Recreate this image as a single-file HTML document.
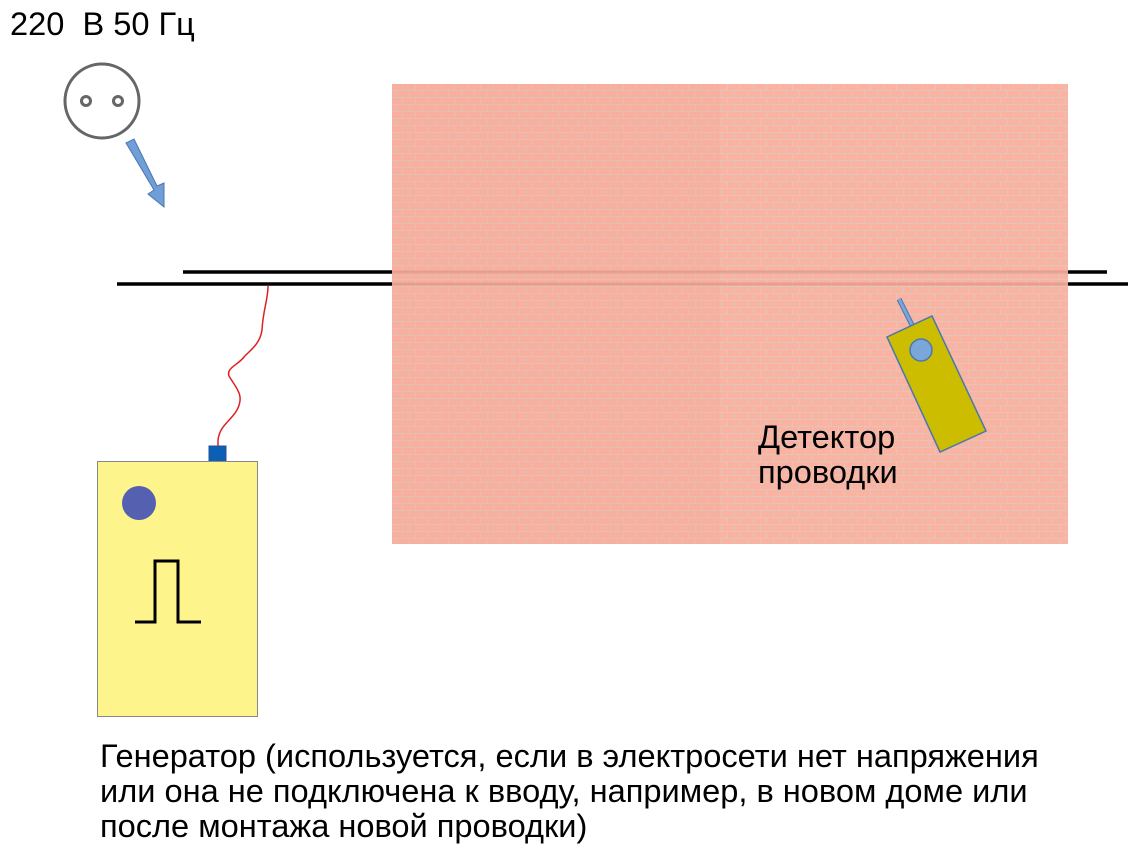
<!DOCTYPE html>
<html><head><meta charset="utf-8"><style>
body{margin:0;width:1135px;height:852px;background:#fff;overflow:hidden;position:relative;font-family:"Liberation Sans",sans-serif}
.t{position:absolute;color:#000;font-size:32.6px;line-height:35px}
</style></head><body>
<svg width="1135" height="852" style="position:absolute;left:0;top:0">
<defs>
<pattern id="b" width="26" height="14" patternUnits="userSpaceOnUse">
<rect width="26" height="14" fill="#d8c8c2"/>
<rect x="0" y="0" width="12" height="6" fill="#f9b09e"/>
<rect x="13" y="0" width="12" height="6" fill="#f9b09e"/>
<rect x="-6" y="7" width="12" height="6" fill="#f9b09e"/>
<rect x="7" y="7" width="12" height="6" fill="#f9b09e"/>
<rect x="20" y="7" width="12" height="6" fill="#f9b09e"/>
</pattern>
</defs>
<line x1="183" y1="272" x2="392" y2="272" stroke="#000" stroke-width="3.5"/>
<line x1="117" y1="284" x2="392" y2="284" stroke="#000" stroke-width="3.5"/>
<line x1="1068" y1="272" x2="1107" y2="272" stroke="#000" stroke-width="3.5"/>
<line x1="1068" y1="284" x2="1128" y2="284" stroke="#000" stroke-width="3.5"/>
<rect x="392" y="84" width="676" height="460" fill="url(#b)"/>
<rect x="392" y="84" width="328" height="460" fill="#f9b09e" opacity="0.4"/>
<rect x="720" y="84" width="348" height="460" fill="#fbb8a8" opacity="0.3"/>
<line x1="392" y1="272" x2="1068" y2="272" stroke="#d08878" stroke-width="3" opacity="0.45"/>
<line x1="392" y1="284" x2="1068" y2="284" stroke="#d08878" stroke-width="3" opacity="0.45"/>
<circle cx="102" cy="101" r="37" fill="none" stroke="#666" stroke-width="3"/>
<circle cx="86" cy="101" r="4.5" fill="none" stroke="#666" stroke-width="3"/>
<circle cx="118" cy="101" r="4.5" fill="none" stroke="#666" stroke-width="3"/>
<polygon points="126,143 134,139 157,186 164,183 164,207 148,194 154,190" fill="#6f9fd6" stroke="#4b76b0" stroke-width="1"/>
<path d="M268,286 C268,300 263,310 262,330 C260,345 248,352 244,357 C238,365 226,368 229,376 C236,388 245,395 237,410 C230,422 220,425 218,440 L218,447" fill="none" stroke="#e02020" stroke-width="1.5"/>
<rect x="209" y="446" width="17" height="16" fill="#0b5fb5" stroke="#2a4f8f"/>
<rect x="97.5" y="461.5" width="160" height="255" fill="#fef48c" stroke="#888"/>
<circle cx="139" cy="503" r="17" fill="#5560b0"/>
<polyline points="135,622 155,622 155,561 178,561 178,622 201,622" fill="none" stroke="#000" stroke-width="3"/>
<line x1="899" y1="299" x2="912" y2="325" stroke="#4b76b0" stroke-width="5"/>
<line x1="899" y1="299" x2="912" y2="325" stroke="#7aa6da" stroke-width="3"/>
<polygon points="887,337 932,316 986,431 940,452" fill="#cdbd00" stroke="#4b76b0" stroke-width="1.5"/>
<circle cx="921" cy="350" r="11" fill="#7aa6da" stroke="#4b76b0" stroke-width="1.5"/>
</svg>
<div class="t" style="left:10px;top:6px">220&nbsp; В 50 Гц</div>
<div class="t" style="left:758px;top:419px">Детектор<br>проводки</div>
<div class="t" style="left:100px;top:738px">Генератор (используется, если в электросети нет напряжения<br>или она не подключена к вводу, например, в новом доме или<br>после монтажа новой проводки)</div>
</body></html>
